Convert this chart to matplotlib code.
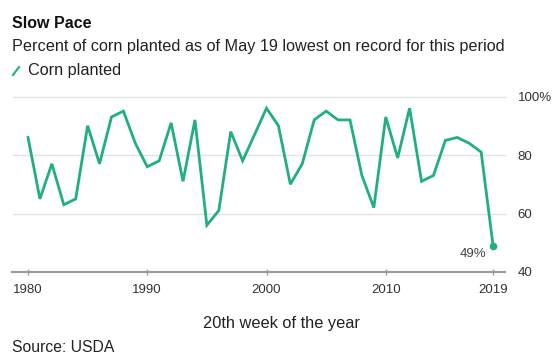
import matplotlib
matplotlib.use('Agg')
import matplotlib.pyplot as plt
from matplotlib.lines import Line2D

plt.rcParams['font.family'] = ['Liberation Sans', 'DejaVu Sans']

years = list(range(1980, 2020))
planted = [86, 65, 77, 63, 65, 90, 77, 93, 95, 84,
           76, 78, 91, 71, 92, 56, 61, 88, 78, 87,
           96, 90, 70, 77, 92, 95, 92, 92, 73, 62,
           93, 79, 96, 71, 73, 85, 86, 84, 81, 49]
xticks = [1980, 1990, 2000, 2010, 2019]
yticks = [40, 60, 80, 100]
ytick_labels = ['40', '60', '80', '100%']

green = '#21b07c'
W, H = 560, 362
fig = plt.figure(figsize=(W / 100, H / 100), dpi=100)
fig.patch.set_facecolor('white')

ax = fig.add_axes([12.5 / W, (H - 272) / H, (505 - 12.5) / W, (272 - 96.5) / H])
ax.plot(years, planted, color=green, lw=2.0, solid_joinstyle='miter', clip_on=False)
ax.plot(years[-1], planted[-1], 'o', color=green, ms=4.5, clip_on=False)
ax.text(2017.3, 46.0, f'{planted[-1]}%', fontsize=9.5, color='#444444', ha='center', va='center')

ax.set_xlim(1978.7, 2020)
ax.set_ylim(40, 100)
for v in yticks[1:]:
    ax.axhline(v, color='#e2e2e2', lw=1.0, zorder=0, clip_on=False)
for s in ['top', 'left', 'right']:
    ax.spines[s].set_visible(False)
ax.spines['bottom'].set_color('#9a9a9a')
ax.spines['bottom'].set_linewidth(1.5)

ax.set_xticks(xticks)
ax.set_xticklabels([str(y) for y in xticks], fontsize=9.5, color='#333333')
ax.tick_params(axis='x', direction='inout', length=5, width=1, color='#9a9a9a', pad=6)
ax.yaxis.tick_right()
ax.set_yticks(yticks)
ax.set_yticklabels(ytick_labels, fontsize=9.5, color='#333333')
ax.tick_params(axis='y', length=0, pad=9)
ax.set_xlabel('20th week of the year', fontsize=11.8, color='#222222')
ax.xaxis.set_label_coords((281 - 12.5) / (505 - 12.5), -0.25)

fig.text(12 / W, 1 - 23 / H, 'Slow Pace', fontsize=11.5, fontweight='bold', color='#111111', va='center')
fig.text(12 / W, 1 - 46 / H, 'Percent of corn planted as of May 19 lowest on record for this period',
         fontsize=11.7, color='#222222', va='center')
fig.add_artist(Line2D([13 / W, 19 / W], [1 - 75 / H, 1 - 67 / H], color=green, lw=1.5))
fig.text(28 / W, 1 - 70 / H, 'Corn planted', fontsize=11.7, color='#222222', va='center')
fig.text(12 / W, 1 - 348 / H, 'Source: USDA', fontsize=11.3, color='#222222', va='center')

fig.savefig('out.png', dpi=100, facecolor='white')
